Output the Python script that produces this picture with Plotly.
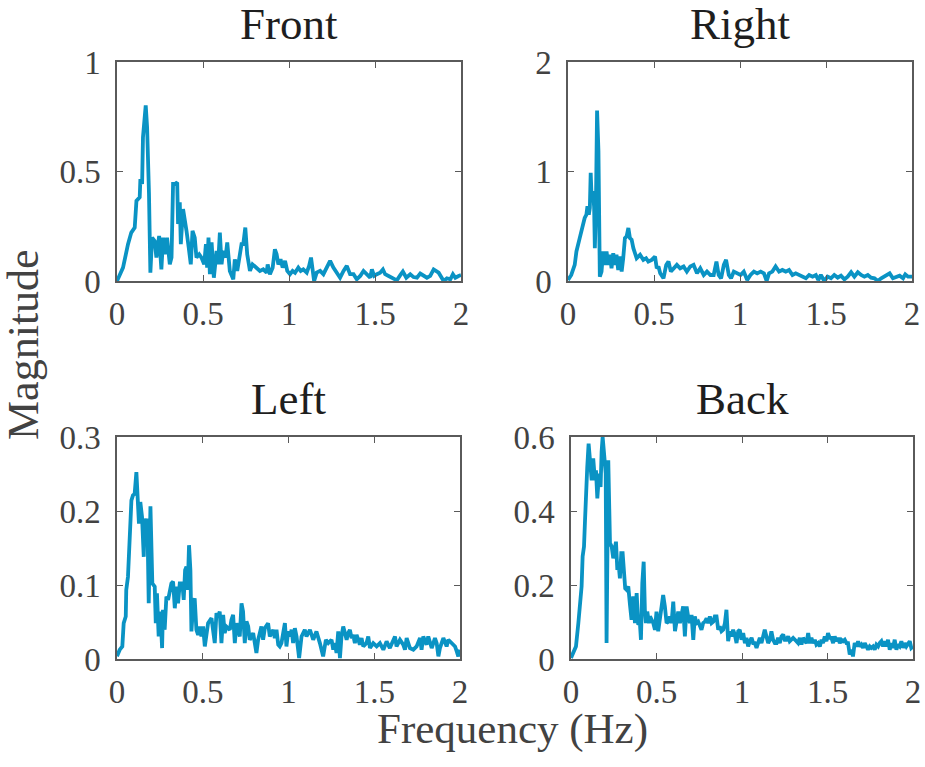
import plotly.graph_objects as go

# ---------------- data ----------------
front_f = [0.000,0.035,0.064,0.083,0.103,0.113,0.132,0.136,0.146,0.151,0.167,0.175,0.186,0.194,0.204,0.219,0.229,0.245,0.258,0.268,0.278,0.291,0.307,0.317,0.326,0.336,0.350,0.355,0.365,0.371,0.384,0.394,0.404,0.417,0.429,0.439,0.452,0.462,0.478,0.491,0.507,0.517,0.524,0.532,0.540,0.550,0.563,0.579,0.588,0.598,0.608,0.617,0.631,0.641,0.656,0.676,0.685,0.699,0.715,0.724,0.734,0.746,0.757,0.773,0.788,0.812,0.831,0.850,0.870,0.876,0.889,0.905,0.918,0.928,0.938,0.951,0.963,0.977,0.990,1.006,1.021,1.035,1.054,1.068,1.083,1.103,1.117,1.128,1.138,1.146,1.161,1.181,1.200,1.219,1.239,1.258,1.278,1.297,1.317,1.336,1.355,1.375,1.394,1.414,1.433,1.452,1.472,1.482,1.495,1.511,1.530,1.546,1.559,1.579,1.598,1.627,1.647,1.662,1.682,1.705,1.724,1.744,1.763,1.783,1.802,1.821,1.841,1.870,1.889,1.899,1.918,1.938,1.953,1.967,1.986,2.000]
front_m = [0.000,0.061,0.168,0.221,0.244,0.366,0.382,0.466,0.443,0.656,0.802,0.702,0.397,0.038,0.198,0.183,0.107,0.206,0.053,0.198,0.122,0.198,0.076,0.107,0.443,0.443,0.450,0.260,0.359,0.168,0.328,0.260,0.229,0.153,0.076,0.229,0.198,0.107,0.122,0.107,0.076,0.168,0.061,0.198,0.031,0.176,0.015,0.137,0.076,0.221,0.076,0.137,0.107,0.176,0.046,0.008,0.099,0.046,0.137,0.168,0.168,0.244,0.122,0.046,0.076,0.061,0.046,0.053,0.038,0.076,0.031,0.061,0.145,0.122,0.076,0.099,0.061,0.092,0.046,0.031,0.046,0.038,0.061,0.046,0.053,0.038,0.069,0.107,0.046,0.000,0.038,0.046,0.031,0.061,0.092,0.061,0.038,0.015,0.046,0.069,0.031,0.031,0.008,0.023,0.046,0.031,0.015,0.053,0.023,0.031,0.038,0.053,0.031,0.023,0.015,0.003,0.027,0.043,0.015,0.031,0.018,0.015,0.034,0.023,0.015,0.023,0.053,0.038,0.015,0.000,0.012,0.008,0.031,0.015,0.023,0.027]

right_f = [0.000,0.019,0.039,0.049,0.068,0.088,0.097,0.107,0.113,0.121,0.127,0.132,0.138,0.146,0.152,0.156,0.162,0.169,0.177,0.185,0.195,0.204,0.214,0.224,0.234,0.243,0.253,0.263,0.273,0.282,0.292,0.302,0.312,0.321,0.331,0.341,0.351,0.360,0.370,0.380,0.399,0.419,0.438,0.454,0.467,0.487,0.506,0.516,0.526,0.536,0.555,0.571,0.584,0.598,0.613,0.633,0.652,0.672,0.691,0.711,0.730,0.750,0.769,0.789,0.808,0.828,0.847,0.863,0.876,0.890,0.906,0.919,0.935,0.948,0.964,0.983,1.003,1.022,1.042,1.061,1.081,1.100,1.120,1.139,1.155,1.169,1.188,1.207,1.227,1.246,1.266,1.285,1.305,1.324,1.344,1.363,1.383,1.402,1.422,1.441,1.455,1.470,1.490,1.509,1.529,1.548,1.568,1.587,1.607,1.626,1.646,1.665,1.685,1.704,1.723,1.743,1.762,1.782,1.801,1.821,1.840,1.870,1.889,1.908,1.928,1.948,1.961,1.977,2.000]
right_m = [0.009,0.055,0.147,0.270,0.392,0.545,0.576,0.606,0.683,0.606,0.668,0.989,0.729,0.821,0.668,0.300,0.637,1.556,1.188,0.040,0.086,0.270,0.147,0.270,0.147,0.239,0.116,0.254,0.147,0.239,0.101,0.224,0.086,0.208,0.392,0.407,0.484,0.392,0.377,0.300,0.208,0.239,0.193,0.208,0.178,0.193,0.224,0.116,0.132,0.070,0.025,0.147,0.178,0.086,0.116,0.147,0.116,0.132,0.086,0.132,0.147,0.070,0.116,0.055,0.086,0.055,0.055,0.178,0.055,0.025,0.147,0.193,0.055,0.025,0.086,0.070,0.055,0.086,0.009,0.055,0.086,0.070,0.086,0.070,0.000,0.070,0.086,0.132,0.086,0.101,0.086,0.101,0.055,0.070,0.055,0.040,0.025,0.055,0.040,0.055,0.009,0.055,0.000,0.040,0.025,0.055,0.031,0.049,0.015,0.040,0.080,0.040,0.080,0.055,0.040,0.055,0.031,0.025,0.000,0.025,0.040,0.070,0.025,0.040,0.049,0.025,0.061,0.040,0.040]

left_f = [0.000,0.016,0.031,0.039,0.051,0.054,0.064,0.074,0.084,0.093,0.103,0.113,0.123,0.128,0.136,0.146,0.156,0.161,0.171,0.177,0.185,0.195,0.206,0.220,0.226,0.233,0.243,0.253,0.263,0.268,0.278,0.288,0.298,0.307,0.317,0.327,0.337,0.346,0.356,0.366,0.381,0.389,0.397,0.405,0.412,0.420,0.428,0.434,0.444,0.453,0.463,0.473,0.482,0.492,0.502,0.512,0.521,0.531,0.551,0.560,0.570,0.580,0.589,0.599,0.609,0.619,0.628,0.638,0.658,0.667,0.677,0.687,0.697,0.706,0.716,0.726,0.735,0.745,0.755,0.765,0.774,0.794,0.813,0.823,0.842,0.852,0.862,0.881,0.891,0.911,0.920,0.930,0.940,0.949,0.959,0.969,0.979,0.988,0.998,1.008,1.018,1.027,1.037,1.047,1.062,1.076,1.095,1.105,1.125,1.144,1.163,1.183,1.202,1.218,1.232,1.251,1.261,1.270,1.280,1.290,1.300,1.309,1.319,1.329,1.339,1.348,1.358,1.368,1.377,1.387,1.397,1.407,1.416,1.426,1.436,1.455,1.465,1.475,1.494,1.514,1.533,1.553,1.572,1.591,1.611,1.621,1.630,1.650,1.669,1.679,1.689,1.708,1.728,1.747,1.767,1.776,1.786,1.805,1.815,1.835,1.854,1.864,1.874,1.883,1.903,1.922,1.932,1.951,1.971,1.981,1.990,2.000]
left_m = [0.0036,0.0126,0.0170,0.0484,0.0574,0.0933,0.1112,0.1605,0.2143,0.2211,0.2233,0.2525,0.2166,0.1830,0.2121,0.1919,0.1381,0.1897,0.1740,0.1897,0.0753,0.2063,0.1022,0.0978,0.0484,0.0888,0.0305,0.0641,0.0148,0.0664,0.0395,0.0843,0.0798,0.0888,0.1022,0.1045,0.0686,0.0978,0.0753,0.1022,0.1022,0.0798,0.1202,0.1247,0.0933,0.1538,0.1202,0.0372,0.0731,0.0821,0.0395,0.0327,0.0439,0.0305,0.0439,0.0170,0.0350,0.0484,0.0552,0.0350,0.0215,0.0619,0.0574,0.0641,0.0215,0.0596,0.0350,0.0439,0.0395,0.0529,0.0596,0.0215,0.0484,0.0395,0.0305,0.0753,0.0641,0.0215,0.0507,0.0439,0.0260,0.0350,0.0081,0.0260,0.0439,0.0260,0.0417,0.0484,0.0305,0.0395,0.0283,0.0395,0.0193,0.0170,0.0215,0.0350,0.0484,0.0170,0.0372,0.0305,0.0395,0.0215,0.0417,0.0305,0.0013,0.0305,0.0395,0.0305,0.0395,0.0260,0.0372,0.0215,0.0036,0.0260,0.0215,0.0260,0.0126,0.0215,0.0081,0.0372,0.0013,0.0305,0.0439,0.0350,0.0260,0.0350,0.0395,0.0283,0.0327,0.0215,0.0327,0.0260,0.0193,0.0283,0.0170,0.0215,0.0305,0.0148,0.0215,0.0170,0.0215,0.0126,0.0238,0.0148,0.0260,0.0305,0.0170,0.0260,0.0193,0.0126,0.0283,0.0148,0.0126,0.0170,0.0283,0.0126,0.0305,0.0193,0.0305,0.0148,0.0283,0.0215,0.0036,0.0148,0.0283,0.0170,0.0260,0.0215,0.0170,0.0103,0.0036,0.0126]

back_f = [0.000,0.014,0.029,0.043,0.053,0.062,0.068,0.076,0.082,0.088,0.095,0.103,0.111,0.121,0.130,0.140,0.146,0.154,0.164,0.173,0.179,0.185,0.195,0.203,0.208,0.218,0.228,0.238,0.247,0.257,0.263,0.271,0.278,0.286,0.294,0.302,0.310,0.317,0.325,0.335,0.345,0.354,0.364,0.374,0.384,0.393,0.403,0.409,0.417,0.425,0.432,0.438,0.446,0.456,0.462,0.471,0.481,0.491,0.500,0.510,0.520,0.530,0.539,0.549,0.559,0.569,0.578,0.588,0.598,0.608,0.617,0.627,0.637,0.647,0.656,0.666,0.676,0.685,0.695,0.705,0.715,0.724,0.734,0.744,0.754,0.763,0.773,0.783,0.793,0.802,0.812,0.822,0.832,0.841,0.851,0.861,0.870,0.880,0.890,0.900,0.909,0.919,0.929,0.939,0.948,0.958,0.968,0.978,0.987,0.997,1.007,1.017,1.026,1.036,1.046,1.056,1.065,1.075,1.085,1.094,1.104,1.114,1.124,1.133,1.143,1.153,1.163,1.172,1.182,1.192,1.202,1.211,1.221,1.231,1.241,1.250,1.260,1.270,1.279,1.289,1.299,1.318,1.328,1.338,1.348,1.357,1.377,1.387,1.396,1.406,1.416,1.426,1.435,1.445,1.455,1.465,1.474,1.484,1.494,1.503,1.513,1.523,1.533,1.542,1.552,1.562,1.572,1.581,1.591,1.601,1.611,1.620,1.630,1.640,1.649,1.659,1.669,1.679,1.688,1.698,1.708,1.718,1.727,1.737,1.747,1.756,1.766,1.776,1.786,1.796,1.805,1.815,1.825,1.834,1.844,1.854,1.864,1.873,1.883,1.893,1.903,1.912,1.922,1.932,1.942,1.951,1.961,1.971,1.981,1.990,2.000]
back_m = [0.003,0.021,0.034,0.097,0.160,0.196,0.277,0.304,0.375,0.456,0.519,0.582,0.519,0.483,0.542,0.483,0.510,0.434,0.501,0.465,0.560,0.600,0.546,0.501,0.043,0.537,0.313,0.304,0.272,0.313,0.317,0.241,0.259,0.218,0.286,0.286,0.232,0.191,0.187,0.196,0.146,0.106,0.169,0.097,0.178,0.093,0.097,0.052,0.205,0.263,0.133,0.097,0.128,0.097,0.115,0.106,0.097,0.079,0.128,0.075,0.115,0.142,0.173,0.142,0.097,0.101,0.115,0.097,0.155,0.075,0.106,0.128,0.097,0.124,0.142,0.061,0.142,0.115,0.097,0.119,0.052,0.115,0.097,0.101,0.088,0.079,0.097,0.101,0.110,0.097,0.115,0.097,0.101,0.115,0.115,0.079,0.088,0.075,0.079,0.097,0.133,0.048,0.075,0.061,0.079,0.066,0.043,0.075,0.079,0.052,0.070,0.043,0.057,0.034,0.048,0.057,0.043,0.043,0.030,0.043,0.057,0.043,0.066,0.079,0.061,0.043,0.052,0.075,0.052,0.043,0.043,0.057,0.043,0.061,0.066,0.052,0.052,0.061,0.048,0.052,0.057,0.048,0.043,0.057,0.039,0.057,0.043,0.070,0.043,0.057,0.043,0.052,0.039,0.043,0.034,0.052,0.043,0.061,0.048,0.070,0.057,0.057,0.043,0.061,0.048,0.057,0.043,0.052,0.048,0.052,0.043,0.043,0.012,0.025,0.007,0.043,0.034,0.048,0.034,0.039,0.030,0.043,0.034,0.025,0.034,0.030,0.034,0.025,0.039,0.034,0.043,0.048,0.034,0.048,0.034,0.052,0.025,0.043,0.030,0.052,0.025,0.039,0.034,0.048,0.030,0.043,0.034,0.043,0.048,0.030,0.034]

titles = ["Front", "Right", "Left", "Back"]
y_ranges = [[0, 1], [0, 2], [0, 0.3], [0, 0.6]]
y_ticks = [[0, 0.5, 1], [0, 1, 2], [0, 0.1, 0.2, 0.3], [0, 0.2, 0.4, 0.6]]
y_ticktext = [["0", "0.5", "1"], ["0", "1", "2"], ["0", "0.1", "0.2", "0.3"], ["0", "0.2", "0.4", "0.6"]]
x_ticks = [0, 0.5, 1, 1.5, 2]
x_ticktext = ["0", "0.5", "1", "1.5", "2"]
x_label = "Frequency (Hz)"
y_label = "Magnitude"

series = [(front_f, front_m), (right_f, right_m), (left_f, left_m), (back_f, back_m)]

# ---------------- layout geometry ----------------
W, H = 925, 767
# axes boxes in pixels: (left, right, top, bottom)
boxes = [(117, 461, 62, 281), (568, 912, 62, 281), (117, 460, 437, 659), (571, 913, 437, 659)]

LINE = "#0A93C4"
AXC = "#5a5a5a"
TXT = "#424242"
FONT = "Liberation Serif"

fig = go.Figure()
layout = dict(
    width=W, height=H,
    margin=dict(l=0, r=0, t=0, b=0, autoexpand=False),
    paper_bgcolor="white", plot_bgcolor="white",
    showlegend=False,
    template="none",
    font=dict(family=FONT, color=TXT, size=33),
)
annotations = []
for i, ((f, m), (l, r, t, b)) in enumerate(zip(series, boxes)):
    xa = "x" if i == 0 else f"x{i+1}"
    ya = "y" if i == 0 else f"y{i+1}"
    fig.add_trace(go.Scatter(x=f, y=m, mode="lines", xaxis=xa, yaxis=ya,
                             line=dict(color=LINE, width=3.8), hoverinfo="skip"))
    common = dict(showline=True, linecolor=AXC, linewidth=1.5, mirror="ticks",
                  ticks="inside", ticklen=6, tickcolor=AXC, tickwidth=1.2,
                  showgrid=False, zeroline=False, automargin=False,
                  tickfont=dict(family=FONT, size=33, color=TXT))
    layout["xaxis" if i == 0 else f"xaxis{i+1}"] = dict(
        domain=[l / W, r / W], range=[0, 2], tickvals=x_ticks, ticktext=x_ticktext,
        anchor=ya, ticklabelstandoff=3, **common)
    layout["yaxis" if i == 0 else f"yaxis{i+1}"] = dict(
        domain=[1 - b / H, 1 - t / H], range=y_ranges[i], tickvals=y_ticks[i],
        ticktext=y_ticktext[i], anchor=xa, ticklabelstandoff=8, **common)
    annotations.append(dict(text=titles[i], xref="paper", yref="paper",
                            x=(l + r) / 2 / W, y=1 - (t - 38) / H,
                            xanchor="center", yanchor="middle", showarrow=False,
                            font=dict(family=FONT, size=45, color="#1e1e1e")))

annotations.append(dict(text=x_label, xref="paper", yref="paper",
                        x=512 / W, y=1 - 729 / H, xanchor="center", yanchor="middle",
                        showarrow=False, font=dict(family=FONT, size=43, color=TXT)))
annotations.append(dict(text=y_label, xref="paper", yref="paper",
                        x=23 / W, y=1 - 345 / H, xanchor="center", yanchor="middle",
                        textangle=-90, showarrow=False,
                        font=dict(family=FONT, size=44, color=TXT)))
layout["annotations"] = annotations
fig.update_layout(**layout)
fig.write_html("out.html")
